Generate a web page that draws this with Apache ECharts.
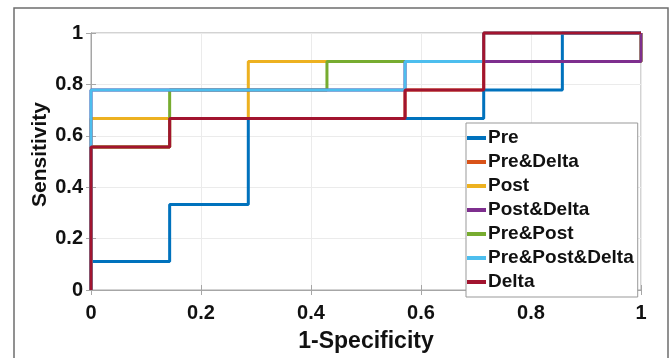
<!DOCTYPE html>
<html>
<head>
<meta charset="utf-8">
<script src="https://cdn.jsdelivr.net/npm/echarts@6/dist/echarts.min.js"></script>
<style>
  html, body { margin: 0; padding: 0; background: #fff; }
  #chart { width: 672px; height: 358px; }
</style>
</head>
<body>
<div id="chart"></div>
<script>
// ROC corner points (1-specificity, sensitivity)
const seriesNames = ['Pre', 'Pre&Delta', 'Post', 'Post&Delta', 'Pre&Post', 'Pre&Post&Delta', 'Delta'];
const seriesColors = ['#0072BD', '#D95319', '#EDB120', '#7E2F8E', '#77AC30', '#4DBEEE', '#A2142F'];
const seriesZ = [2, 1, 3, 5, 4, 6, 7];

const preX = [0, 0, 0.143, 0.143, 0.286, 0.286, 0.714, 0.714, 0.857, 0.857, 1];
const preY = [0, 0.111, 0.111, 0.333, 0.333, 0.667, 0.667, 0.778, 0.778, 1, 1];

const preDeltaX = [0, 0, 0.143, 0.143, 0.571, 0.571, 0.714, 0.714, 1];
const preDeltaY = [0, 0.556, 0.556, 0.667, 0.667, 0.778, 0.778, 1, 1];

const postX = [0, 0, 0.286, 0.286, 1, 1];
const postY = [0, 0.667, 0.667, 0.889, 0.889, 1];

const postDeltaX = [0, 0, 0.571, 0.571, 1, 1];
const postDeltaY = [0, 0.778, 0.778, 0.889, 0.889, 1];

const prePostX = [0, 0, 0.143, 0.143, 0.429, 0.429, 1, 1];
const prePostY = [0, 0.556, 0.556, 0.778, 0.778, 0.889, 0.889, 1];

const prePostDeltaX = [0, 0, 0.571, 0.571, 0.714, 0.714, 1];
const prePostDeltaY = [0, 0.778, 0.778, 0.889, 0.889, 1, 1];

const deltaX = [0, 0, 0.143, 0.143, 0.571, 0.571, 0.714, 0.714, 1];
const deltaY = [0, 0.556, 0.556, 0.667, 0.667, 0.778, 0.778, 1, 1];

const allX = [preX, preDeltaX, postX, postDeltaX, prePostX, prePostDeltaX, deltaX];
const allY = [preY, preDeltaY, postY, postDeltaY, prePostY, prePostDeltaY, deltaY];

const font = '"Liberation Sans", Arial, sans-serif';
const tickLabel = { color: '#111', fontWeight: 'bold', fontSize: 20, fontFamily: font };
const axisGray = '#a6a6a6';

const chart = echarts.init(document.getElementById('chart'), null, { renderer: 'canvas' });

const series = seriesNames.map((name, i) => ({
  name: name,
  type: 'line',
  data: allX[i].map((x, k) => [x, allY[i][k]]),
  showSymbol: false,
  symbol: 'none',
  clip: false,
  z: seriesZ[i],
  lineStyle: { color: seriesColors[i], width: 3 },
  itemStyle: { color: seriesColors[i] },
  animation: false
}));

const option = {
  backgroundColor: '#fff',
  animation: false,
  graphic: [{
    type: 'rect',
    shape: { x: 14, y: 8, width: 654, height: 360 },
    style: { fill: 'none', stroke: '#6e6e6e', lineWidth: 1.5 },
    silent: true
  }],
  grid: { left: 91, right: 31, top: 33, bottom: 67, show: true, borderColor: axisGray, borderWidth: 1 },
  legend: {
    orient: 'vertical',
    left: 466,
    top: 123,
    data: seriesNames,
    icon: 'rect',
    itemWidth: 19,
    itemHeight: 4,
    itemGap: 4,
    padding: [5, 4, 5, 1],
    backgroundColor: '#fff',
    borderColor: '#999',
    borderWidth: 1,
    textStyle: { color: '#111', fontWeight: 'bold', fontSize: 19, fontFamily: font, lineHeight: 20, padding: [0, 0, 0, -3] }
  },
  xAxis: [{
    type: 'value', min: 0, max: 1, interval: 0.2,
    name: '1-Specificity', nameLocation: 'middle', nameGap: 40,
    nameTextStyle: { color: '#111', fontWeight: 'bold', fontSize: 23, fontFamily: font },
    axisLine: { show: true, lineStyle: { color: axisGray } },
    axisTick: { show: true, inside: true, length: 5, lineStyle: { color: axisGray } },
    axisLabel: Object.assign({ margin: 13, formatter: v => String(+v.toFixed(1)) }, tickLabel),
    splitLine: { show: true, lineStyle: { color: '#ebebeb' } }
  }, {
    type: 'value', min: 0, max: 1, interval: 0.2, position: 'top',
    axisLine: { show: true, lineStyle: { color: axisGray } },
    axisTick: { show: true, inside: true, length: 5, lineStyle: { color: axisGray } },
    axisLabel: { show: false }, splitLine: { show: false }
  }],
  yAxis: [{
    type: 'value', min: 0, max: 1, interval: 0.2,
    name: 'Sensitivity', nameLocation: 'middle', nameGap: 40, nameMoveOverlap: false,
    nameTextStyle: { color: '#111', fontWeight: 'bold', fontSize: 21, fontFamily: font, padding: [0, 0, 0, 14] },
    axisLine: { show: true, lineStyle: { color: axisGray } },
    axisTick: { show: true, inside: true, length: 5, lineStyle: { color: axisGray } },
    axisLabel: Object.assign({ margin: 8, formatter: v => String(+v.toFixed(1)) }, tickLabel),
    splitLine: { show: true, lineStyle: { color: '#ebebeb' } }
  }, {
    type: 'value', min: 0, max: 1, interval: 0.2, position: 'right',
    axisLine: { show: true, lineStyle: { color: axisGray } },
    axisTick: { show: true, inside: true, length: 5, lineStyle: { color: axisGray } },
    axisLabel: { show: false }, splitLine: { show: false }
  }],
  series: series
};

chart.setOption(option);
</script>
</body>
</html>
